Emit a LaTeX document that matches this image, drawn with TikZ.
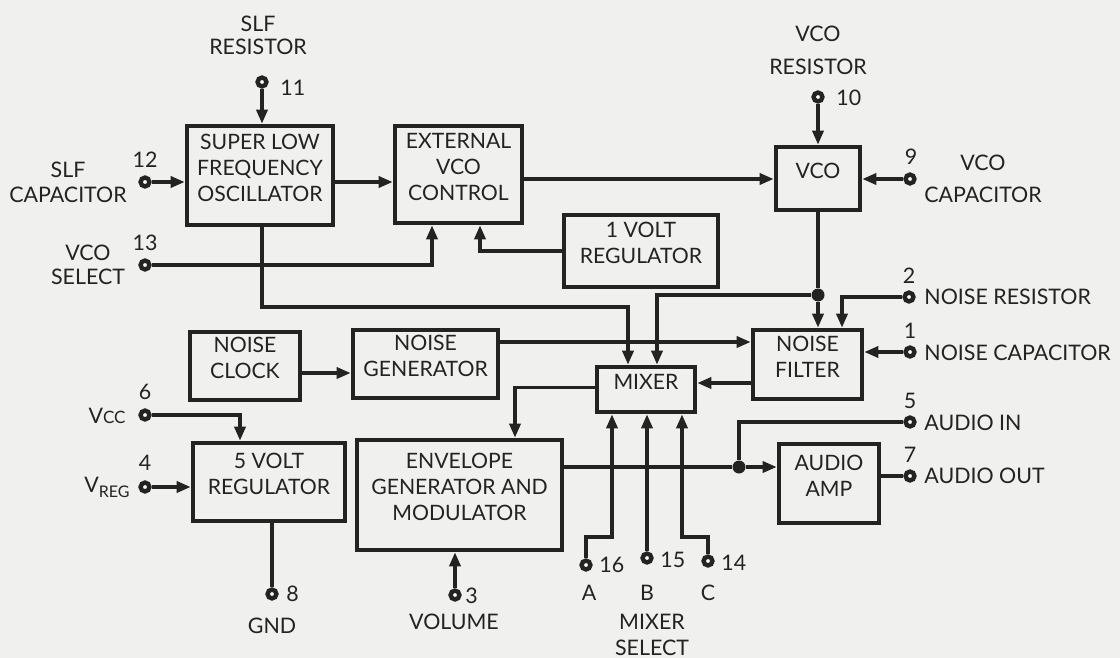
\documentclass[tikz,border=0pt]{standalone}
\usepackage{fontspec}
\setmainfont{Lato}
\usetikzlibrary{arrows.meta,fit}
\definecolor{bg}{RGB}{240,240,238}
\definecolor{ink}{RGB}{35,35,35}
\begin{document}
\begin{tikzpicture}[x=0.5pt,y={(0pt,-0.5pt)},
  blk/.style={draw=ink, line width=2.3pt, fill=bg, inner sep=0pt, align=center, text=ink,
    font=\fontsize{10.6}{13}\selectfont},
  pinc/.style={circle, draw=ink, line width=2.2pt, fill=white, minimum size=4.4pt, inner sep=0pt},
  wire/.style={draw=ink, line width=1.7pt},
  arr/.style={wire, -{Triangle[length=7pt,width=5.5pt]}},
  jdot/.style={circle, fill=ink, minimum size=6.5pt, inner sep=0pt},
  lbl/.style={text=ink, inner sep=0pt, align=center, font=\fontsize{10.7}{12.5}\selectfont}
]
\fill[bg] (0,0) rectangle (1120,658);
\useasboundingbox (0,0) rectangle (1120,658);

% blocks
\node[blk, fit={(187,126) (333,225)}] (slf) {SUPER LOW\\FREQUENCY\\OSCILLATOR};
\node[blk, fit={(395,126) (522,223)}] (ext) {EXTERNAL\\VCO\\CONTROL};
\node[blk, fit={(564,215) (718,287)}] (reg1) {1 VOLT\\REGULATOR};
\node[blk, fit={(776,147) (860,210)}] (vco) {VCO};
\node[blk, fit={(753,330) (862,399)}] (nf) {NOISE\\FILTER};
\node[blk, fit={(190,332) (300,400)}] (nclk) {NOISE\\CLOCK};
\node[blk, fit={(353,330) (498,398)}] (ngen) {NOISE\\GENERATOR};
\node[blk, fit={(597,367) (695,412)}] (mix) {MIXER};
\node[blk, fit={(357,440) (562,550)}] (env) {ENVELOPE\\GENERATOR AND\\MODULATOR};
\node[blk, fit={(779,444) (879,523)}] (amp) {AUDIO\\AMP};
\node[blk, fit={(193,443) (345,521)}] (reg5) {5 VOLT\\REGULATOR};

% pins
\node[pinc] (p11) at (262,82) {};
\node[pinc] (p12) at (145,182) {};
\node[pinc] (p13) at (145,265) {};
\node[pinc] (p10) at (818,97) {};
\node[pinc] (p9) at (910,179) {};
\node[pinc] (p2) at (909,297) {};
\node[pinc] (p1) at (910,352) {};
\node[pinc] (p5) at (910,422) {};
\node[pinc] (p7) at (910,476) {};
\node[pinc] (p6) at (145,415) {};
\node[pinc] (p4) at (145,487) {};
\node[pinc] (p8) at (272,594) {};
\node[pinc] (p3) at (455,595) {};
\node[pinc] (p16) at (586,565) {};
\node[pinc] (p15) at (647,558) {};
\node[pinc] (p14) at (708,561) {};

% junctions and bends
\node[jdot] (j1) at (818,295) {};
\node[jdot] (j2) at (739,467) {};
\coordinate (m1) at (628,307);
\coordinate (m2) at (657,295);
\coordinate (a1) at (612,537);
\coordinate (c1) at (682,537);

% labels
\node[lbl] at (258,35) {SLF\\[-1pt]RESISTOR};
\node[lbl, anchor=west] at (280,88) {11};
\node[lbl] at (145,160) {12};
\node[lbl] at (68,170) {SLF};
\node[lbl] at (68,195) {CAPACITOR};
\node[lbl] at (145,243) {13};
\node[lbl] at (88,253) {VCO};
\node[lbl] at (88,277) {SELECT};
\node[lbl] at (818,34) {VCO};
\node[lbl] at (818,67) {RESISTOR};
\node[lbl, anchor=west] at (836,98) {10};
\node[lbl] at (911,157) {9};
\node[lbl] at (983,163) {VCO};
\node[lbl] at (983,195) {CAPACITOR};
\node[lbl] at (909,276) {2};
\node[lbl, anchor=west] at (924,297) {NOISE RESISTOR};
\node[lbl] at (910,331) {1};
\node[lbl, anchor=west] at (924,353) {NOISE CAPACITOR};
\node[lbl] at (910,401) {5};
\node[lbl, anchor=west] at (924,423) {AUDIO IN};
\node[lbl] at (910,455) {7};
\node[lbl, anchor=west] at (924,476) {AUDIO OUT};
\node[lbl] at (145,392) {6};
\node[lbl, anchor=east] at (126,416) {V{\fontsize{8.5}{10}\selectfont CC}};
\node[lbl] at (145,463) {4};
\node[lbl, anchor=east] at (130,487) {V\raisebox{-0.45ex}{\fontsize{8}{10}\selectfont REG}};
\node[lbl, anchor=west] at (286,594) {8};
\node[lbl] at (272,626) {GND};
\node[lbl, anchor=west] at (465,596) {3};
\node[lbl] at (454,622) {VOLUME};
\node[lbl, anchor=west] at (599,565) {16};
\node[lbl, anchor=west] at (660,560) {15};
\node[lbl, anchor=west] at (721,563) {14};
\node[lbl] at (589,593) {A};
\node[lbl] at (647,593) {B};
\node[lbl] at (708,593) {C};
\node[lbl] at (652,622) {MIXER};
\node[lbl] at (652,648) {SELECT};

% connectors
\draw[arr] (p11) -- (p11 |- slf.north);
\draw[arr] (p12) -- (p12 -| slf.west);
\draw[arr] (slf.east |- p12) -- (ext.west |- p12);
\draw[arr] (ext.east |- p9) -- (vco.west |- p9);
\draw[arr] (p10) -- (p10 |- vco.north);
\draw[arr] (p9) -- (p9 -| vco.east);
\draw[arr] (p13) -| ([xshift=-13.25pt]ext.south);
\draw[arr] (reg1.west) -| ([xshift=10.75pt]ext.south);
\draw[arr] ([xshift=1pt]slf.south) |- (m1) -- (m1 |- mix.north);
\draw[wire] (vco.south) -- (j1);
\draw[arr] (j1) -- (j1 |- nf.north);
\draw[arr] (j1) -| (m2 |- mix.north);
\draw[arr] (p2) -| ([xshift=17.25pt]nf.north);
\draw[arr] (p1) -- (p1 -| nf.east);
\draw[arr] ([yshift=-3.5pt]nclk.east) -- ([yshift=-3.5pt]nclk.east -| ngen.west);
\draw[arr] ([yshift=11pt]ngen.east) -- ([yshift=11pt]ngen.east -| nf.west);
\draw[arr] ([yshift=-9.25pt]nf.west) -- ([yshift=-9.25pt]nf.west -| mix.east);
\draw[arr] ([yshift=1pt]mix.west) -| ([xshift=27.75pt]env.north);
\draw[wire] ([yshift=14pt]env.east) -- (j2);
\draw[arr] (j2) -- (j2 -| amp.west);
\draw[wire] (p5) -| (j2);
\draw[wire] (amp.east |- p7) -- (p7);
\draw[arr] (p16) |- (a1) -- (a1 |- mix.south);
\draw[arr] (p15) -- (p15 |- mix.south);
\draw[arr] (p14) |- (c1) -- (c1 |- mix.south);
\draw[arr] (p3) -- (p3 |- env.south);
\draw[arr] (p6) -| ([xshift=-14.5pt]reg5.north);
\draw[arr] (p4) -- (p4 -| reg5.west);
\draw[wire] (reg5.south -| p8) -- (p8);
\end{tikzpicture}
\end{document}
